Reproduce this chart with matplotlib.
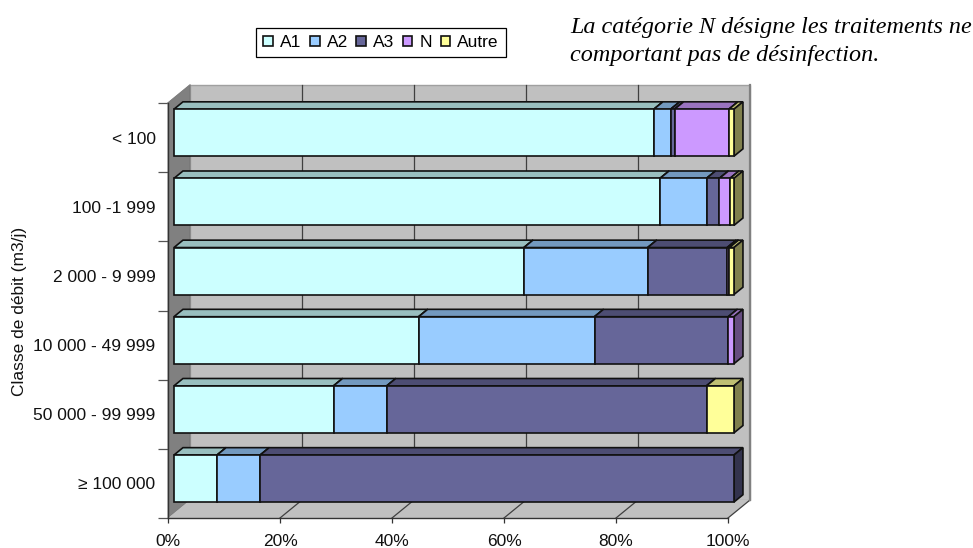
import matplotlib
matplotlib.use("Agg")
import matplotlib.pyplot as plt
from matplotlib.patches import Polygon, Patch
import numpy as np

plt.rcParams['font.family'] = ['Liberation Sans', 'DejaVu Sans']

categories = ["< 100", "100 -1 999", "2 000 - 9 999", "10 000 - 49 999", "50 000 - 99 999", "≥ 100 000"]
series_names = ["A1", "A2", "A3", "N", "Autre"]
A1 = [85.7, 86.8, 62.5, 43.7, 28.5, 7.7]
A2 = [3.0, 8.3, 22.1, 31.4, 9.5, 7.7]
A3 = [0.7, 2.3, 14.2, 23.9, 57.1, 84.6]
N = [9.7, 1.9, 0.4, 1.0, 0.0, 0.0]
Autre = [0.9, 0.7, 0.8, 0.0, 4.9, 0.0]
series_values = [A1, A2, A3, N, Autre]
colors = ["#CCFFFF", "#99CCFF", "#666699", "#CC99FF", "#FFFF99"]
xticks = [0, 20, 40, 60, 80, 100]
xticklabels = ["0%", "20%", "40%", "60%", "80%", "100%"]

W, H = 973, 548
fig = plt.figure(figsize=(W / 100, H / 100), dpi=100, facecolor="white")
L, R, T, B = 168, 728, 103, 518
ax = fig.add_axes([L / W, 1 - B / H, (R - L) / W, (B - T) / H])
ax.set_xlim(0, 100)
ax.set_ylim(6, 0)
ax.patch.set_visible(False)

# oblique depth: pixel offsets converted to data units
DX = 22 / ((R - L) / 100)
DY = 18 / ((B - T) / 6)
def P(x, y, d=0.0):
    return (x + d * DX, y - d * DY)
def poly(pts, fc, ec="none", lw=0.0, z=1):
    ax.add_patch(Polygon(pts, closed=True, facecolor=fc, edgecolor=ec, linewidth=lw, zorder=z, clip_on=False, joinstyle="miter"))
def shade(c, f):
    return tuple(v * f for v in matplotlib.colors.to_rgb(c))

# walls and floor
poly([P(0, 0, 1), P(100, 0, 1), P(100, 6, 1), P(0, 6, 1)], "#C0C0C0", "#A0A0A0", 1.0, 1)
poly([P(0, 0), P(0, 0, 1), P(0, 6, 1), P(0, 6)], "#808080", "#707070", 0.6, 1)
poly([P(0, 6), P(100, 6), P(100, 6, 1), P(0, 6, 1)], "#C0C0C0", "none", 0, 1)
for t in xticks[1:-1]:
    ax.plot(*zip(P(t, 0, 1), P(t, 6, 1)), color="#404040", lw=0.9, zorder=2, clip_on=False)
for t in xticks[1:]:
    ax.plot(*zip(P(t, 6), P(t, 6, 1)), color="#404040", lw=0.9, zorder=2, clip_on=False)
ax.plot(*zip(P(100, 0, 1), P(100, 6, 1)), color="#808080", lw=1.6, zorder=2, clip_on=False)
ax.plot(*zip(P(0, 0), P(0, 0, 1)), color="#808080", lw=1.0, zorder=2, clip_on=False)

# bars
BAR_H = 0.68
D0, D1 = 0.27, 0.68
z = 3
for i in range(len(categories)):
    y0 = i + 0.5 - BAR_H / 2
    y1 = i + 0.5 + BAR_H / 2
    left = 0.0
    for vals, c in zip(series_values, colors):
        v = vals[i]
        if v <= 0:
            continue
        r = left + v
        poly([P(left, y0, D0), P(r, y0, D0), P(r, y0, D1), P(left, y0, D1)], shade(c, 0.75), "#111111", 1.2, z)
        poly([P(r, y0, D0), P(r, y0, D1), P(r, y1, D1), P(r, y1, D0)], shade(c, 0.5), "#111111", 1.2, z)
        poly([P(left, y0, D0), P(r, y0, D0), P(r, y1, D0), P(left, y1, D0)], c, "#111111", 1.2, z)
        left = r
        z += 1

# axes furniture
FS = 12.5
for s in ["top", "right"]:
    ax.spines[s].set_visible(False)
for s in ["left", "bottom"]:
    ax.spines[s].set_color("#333333")
    ax.spines[s].set_linewidth(1.0)
    ax.spines[s].set_zorder(100)
ax.set_xticks(xticks)
ax.set_xticklabels(xticklabels, fontsize=FS)
ax.tick_params(axis="x", length=3.5, width=0.9, color="#333333", pad=8, labelcolor="#111111")
ax.set_yticks(range(7))
ax.set_yticklabels([])
ax.tick_params(axis="y", which="major", length=7, width=0.9, color="#555555")
ax.set_yticks(np.arange(6) + 0.5, minor=True)
ax.set_yticklabels(categories, minor=True, fontsize=FS, color="#111111")
ax.tick_params(axis="y", which="minor", length=0, pad=9)
ax.set_ylabel("Classe de débit (m3/j)", fontsize=FS, color="#111111")
ax.yaxis.set_label_coords((27 - L) / (R - L), (B - 311) / (B - T))

# legend
handles = [Patch(facecolor=c, edgecolor="#111111", linewidth=1.2) for c in colors]
leg = fig.legend(handles, series_names, ncol=5, loc="center", bbox_to_anchor=(381 / W, 1 - 42.5 / H),
                 fontsize=FS, frameon=True, fancybox=False, edgecolor="black", framealpha=1,
                 handlelength=0.55, handleheight=0.55, handletextpad=0.4, columnspacing=0.5,
                 borderpad=0.42, borderaxespad=0)
leg.get_frame().set_linewidth(0.9)

# note
note = dict(family="Liberation Serif", style="italic", fontsize=17.4, color="black", ha="left", va="center")
fig.text(570 / W, 1 - 27 / H, "La catégorie N désigne les traitements ne", **note)
fig.text(570 / W, 1 - 55 / H, "comportant pas de désinfection.", **note)

fig.savefig("out.png", dpi=100, facecolor="white")
